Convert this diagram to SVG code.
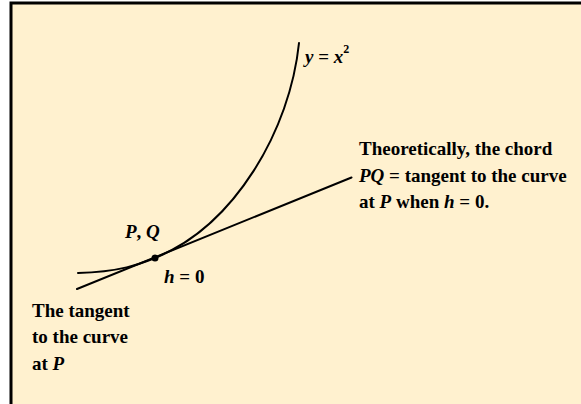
<svg xmlns="http://www.w3.org/2000/svg" width="581" height="404" viewBox="0 0 581 404">
<style>
text{font-family:"Liberation Serif","Times New Roman",serif;font-weight:bold;font-size:19px;fill:#000}
.i{font-style:italic}
.ln{fill:none;stroke:#000;stroke-width:2;stroke-linecap:round}
</style>
<rect x="0" y="0" width="581" height="404" fill="#fff"/>
<rect x="12" y="4" width="569" height="400" fill="#FFF1CF"/>
<path d="M11,404 V3 H581" fill="none" stroke="#000" stroke-width="3"/>
<g id="connectors">
<path class="ln" d="M77,289 L351.5,177.5"/>
</g>
<g id="curve">
<path class="ln" d="M78,273 C120,272 140,264 155,258 C235,225.4 290,130 299,43"/>
</g>
<g id="point-P">
<circle cx="155" cy="258" r="3.5" fill="#000"/>
<text x="125" y="238"><tspan class="i">P</tspan>, <tspan class="i">Q</tspan></text>
<text x="164" y="283"><tspan class="i">h</tspan> = 0</text>
</g>
<g id="label-curve">
<text x="305" y="63"><tspan class="i">y</tspan> = <tspan class="i">x</tspan><tspan font-size="12" dy="-10">2</tspan></text>
</g>
<g id="label-chord">
<text x="359" y="155">Theoretically, the chord</text>
<text x="359" y="182"><tspan class="i">PQ</tspan> = tangent to the curve</text>
<text x="359" y="208">at <tspan class="i">P</tspan> when <tspan class="i">h</tspan> = 0.</text>
</g>
<g id="label-tangent">
<text x="32" y="317">The tangent</text>
<text x="32" y="343">to the curve</text>
<text x="32" y="370">at <tspan class="i">P</tspan></text>
</g>
</svg>
